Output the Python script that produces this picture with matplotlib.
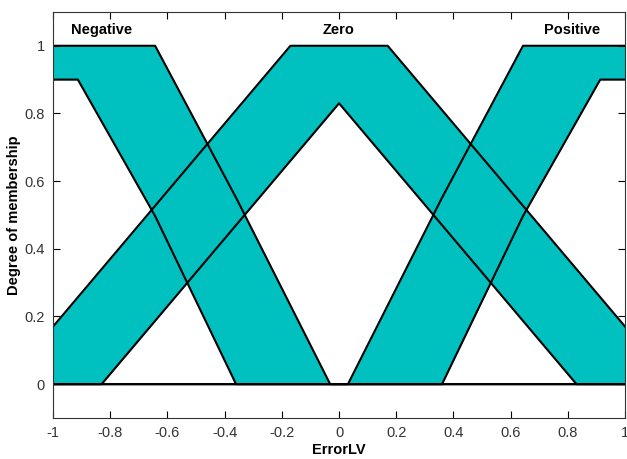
import numpy as np
import matplotlib.pyplot as plt

plt.rcParams['font.family'] = ['Liberation Sans', 'DejaVu Sans']

# breakpoints (x, upper MF, lower MF)
neg_x = [-1.0, -0.913, -0.643, -0.36, -0.031, 1.0]
neg_upper = [1.0, 1.0, 1.0, 0.551, 0.0, 0.0]
neg_lower = [0.9, 0.9, 0.497, 0.0, 0.0, 0.0]

zero_x = [-1.0, -0.83, -0.17, 0.0, 0.17, 0.83, 1.0]
zero_upper = [0.17, 0.34, 1.0, 1.0, 1.0, 0.34, 0.17]
zero_lower = [0.0, 0.0, 0.66, 0.83, 0.66, 0.0, 0.0]

pos_x = [-1.0, 0.031, 0.36, 0.643, 0.913, 1.0]
pos_upper = [0.0, 0.0, 0.551, 1.0, 1.0, 1.0]
pos_lower = [0.0, 0.0, 0.0, 0.497, 0.9, 0.9]

labels = ['Negative', 'Zero', 'Positive']
label_x = [-0.83, 0.0, 0.815]

fig = plt.figure(figsize=(6.27, 4.59), dpi=100)
ax = fig.add_axes([0.0845, 0.0893, 0.9125, 0.8847])

teal = '#00c0c0'
for xs, up, lo in [(neg_x, neg_upper, neg_lower),
                   (zero_x, zero_upper, zero_lower),
                   (pos_x, pos_upper, pos_lower)]:
    ax.fill_between(xs, lo, up, color=teal, linewidth=0)
    ax.plot(xs, up, color='black', linewidth=1.5)
    ax.plot(xs, lo, color='black', linewidth=1.5)

for t, xp in zip(labels, label_x):
    ax.text(xp, 1.047, t, ha='center', va='center', fontsize=10.5, fontweight='bold')

ax.set_xlim(-1, 1)
ax.set_ylim(-0.1, 1.1)
ax.set_xticks(np.arange(-1, 1.01, 0.2))
ax.set_xticklabels(['-1', '-0.8', '-0.6', '-0.4', '-0.2', '0', '0.2', '0.4', '0.6', '0.8', '1'])
ax.set_yticks([0, 0.2, 0.4, 0.6, 0.8, 1])
ax.set_yticklabels(['0', '0.2', '0.4', '0.6', '0.8', '1'])
ax.tick_params(direction='in', top=True, right=True, length=5, labelsize=10.5,
               labelcolor='#333333', pad=6)
for s in ax.spines.values():
    s.set_color('#333333')
ax.set_xlabel('ErrorLV', fontsize=10.5, fontweight='bold', labelpad=2)
ax.set_ylabel('Degree of membership', fontsize=10.5, fontweight='bold', labelpad=2)

fig.savefig('out.png', dpi=100)
